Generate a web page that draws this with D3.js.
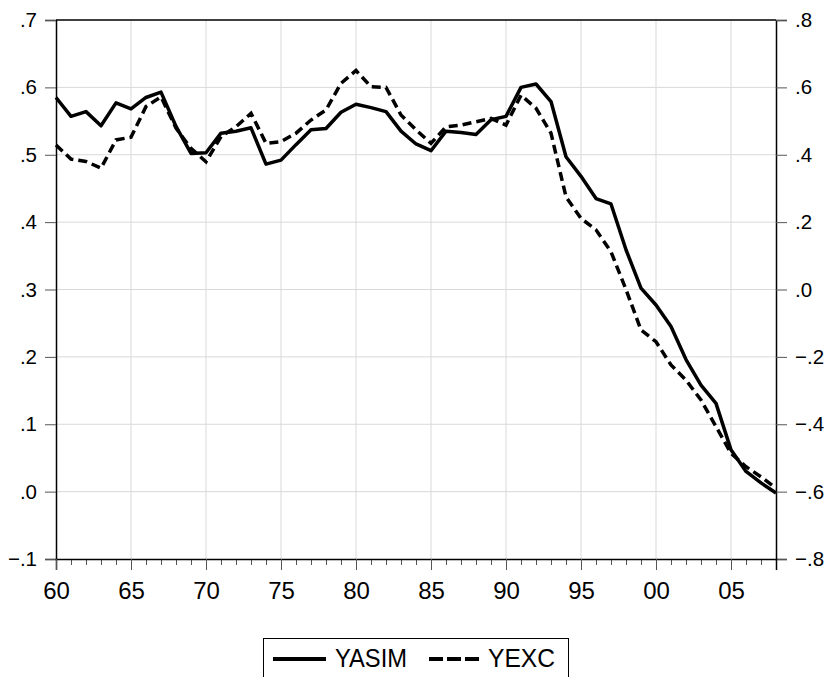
<!DOCTYPE html>
<html>
<head>
<meta charset="utf-8">
<script src="https://cdn.jsdelivr.net/npm/d3@7"></script>
<style>
  body { margin: 0; background: #fff; }
  svg text { font-family: "Liberation Sans", Arial, sans-serif; fill: #000; }
</style>
</head>
<body>
<svg id="chart" width="825" height="677"></svg>
<script>
// years 1960..2008
const years = d3.range(1960, 2009);

// YASIM (left axis)
const yasim = [0.585, 0.557, 0.564, 0.543, 0.577, 0.568, 0.585, 0.593, 0.542, 0.502,
  0.503, 0.532, 0.535, 0.540, 0.486, 0.492, 0.515, 0.537, 0.539, 0.563,
  0.575, 0.570, 0.564, 0.535, 0.516, 0.506, 0.535, 0.533, 0.530, 0.552,
  0.557, 0.600, 0.605, 0.579, 0.497, 0.468, 0.435, 0.427, 0.359, 0.302,
  0.277, 0.245, 0.196, 0.158, 0.131, 0.062, 0.030, 0.013, -0.002];

// YEXC (right axis)
const yexc = [0.429, 0.387, 0.380, 0.360, 0.444, 0.452, 0.543, 0.572, 0.479, 0.419,
  0.379, 0.454, 0.483, 0.523, 0.434, 0.439, 0.464, 0.503, 0.533, 0.612,
  0.650, 0.602, 0.600, 0.518, 0.474, 0.434, 0.483, 0.488, 0.498, 0.508,
  0.488, 0.577, 0.538, 0.464, 0.275, 0.211, 0.177, 0.112, 0.000, -0.120,
  -0.155, -0.224, -0.269, -0.328, -0.407, -0.486, -0.526, -0.556, -0.590];

const leftTicks = [-0.1, 0.0, 0.1, 0.2, 0.3, 0.4, 0.5, 0.6, 0.7];
const rightTicks = [-0.8, -0.6, -0.4, -0.2, 0.0, 0.2, 0.4, 0.6, 0.8];
const xMajor = [1960, 1965, 1970, 1975, 1980, 1985, 1990, 1995, 2000, 2005];
const seriesNames = ["YASIM", "YEXC"];

const svg = d3.select("#chart");
const L = 56, R = 776, T = 20, B = 559;

const x = d3.scaleLinear().domain([1960, 2008]).range([L, R]);
const yL = d3.scaleLinear().domain([-0.1, 0.7]).range([B, T]);
const yR = d3.scaleLinear().domain([-0.8, 0.8]).range([B, T]);

const fmt = v => d3.format(".1f")(v).replace("0.", ".");

// grid
svg.append("g").selectAll("line").data(leftTicks.slice(1, -1)).join("line")
  .attr("x1", L).attr("x2", R)
  .attr("y1", d => yL(d)).attr("y2", d => yL(d))
  .attr("stroke", "#d9d9d9").attr("stroke-width", 1);
svg.append("g").selectAll("line").data(xMajor.slice(1)).join("line")
  .attr("x1", d => x(d)).attr("x2", d => x(d))
  .attr("y1", T).attr("y2", B)
  .attr("stroke", "#d9d9d9").attr("stroke-width", 1);

// left axis
const gl = svg.append("g").attr("transform", `translate(${L},0)`)
  .call(d3.axisLeft(yL).tickValues(leftTicks).tickFormat(fmt).tickSize(11).tickPadding(8));
gl.select(".domain").attr("stroke", "#000").attr("stroke-width", 1.5);
gl.selectAll(".tick line").attr("stroke", "#555");
gl.selectAll("text").style("font-size", "20.5px");

// right axis
const gr = svg.append("g").attr("transform", `translate(${R},0)`)
  .call(d3.axisRight(yR).tickValues(rightTicks).tickFormat(fmt).tickSize(11).tickPadding(8));
gr.select(".domain").attr("stroke", "#000").attr("stroke-width", 1.5);
gr.selectAll(".tick line").attr("stroke", "#555");
gr.selectAll("text").style("font-size", "20.5px");

// bottom axis: minor yearly ticks, major every 5
const gbMinor = svg.append("g").attr("transform", `translate(0,${B})`)
  .call(d3.axisBottom(x).tickValues(years).tickFormat("").tickSize(6));
gbMinor.select(".domain").remove();
gbMinor.selectAll(".tick line").attr("stroke", "#555");
const gb = svg.append("g").attr("transform", `translate(0,${B})`)
  .call(d3.axisBottom(x).tickValues(xMajor).tickFormat(d => String(d % 100).padStart(2, "0")).tickSize(11).tickPadding(12));
gb.select(".domain").attr("stroke", "#000").attr("stroke-width", 1.5);
gb.selectAll(".tick line").attr("stroke", "#555");
gb.selectAll("text").style("font-size", "24px");

// top border
svg.append("line").attr("x1", L).attr("x2", R).attr("y1", T).attr("y2", T)
  .attr("stroke", "#000").attr("stroke-width", 1.5);

// lines
const lineL = d3.line().x((d, i) => x(years[i])).y(d => yL(d));
const lineR = d3.line().x((d, i) => x(years[i])).y(d => yR(d));

svg.append("path").datum(yexc).attr("d", lineR)
  .attr("fill", "none").attr("stroke", "#000").attr("stroke-width", 3.5)
  .attr("stroke-dasharray", "9,5");
svg.append("path").datum(yasim).attr("d", lineL)
  .attr("fill", "none").attr("stroke", "#000").attr("stroke-width", 3.5)
  .attr("stroke-linejoin", "round");

// legend
const lg = svg.append("g");
lg.append("rect").attr("x", 263.5).attr("y", 638.5).attr("width", 305).attr("height", 60)
  .attr("fill", "none").attr("stroke", "#000").attr("stroke-width", 1);
lg.append("line").attr("x1", 273).attr("x2", 326).attr("y1", 659).attr("y2", 659)
  .attr("stroke", "#000").attr("stroke-width", 4);
lg.append("text").attr("x", 335).attr("y", 667).style("font-size", "25px")
  .attr("textLength", 72).attr("lengthAdjust", "spacingAndGlyphs").text(seriesNames[0]);
lg.append("line").attr("x1", 429).attr("x2", 479).attr("y1", 659).attr("y2", 659)
  .attr("stroke", "#000").attr("stroke-width", 4).attr("stroke-dasharray", "14,4");
lg.append("text").attr("x", 488).attr("y", 667).style("font-size", "25px")
  .attr("textLength", 67).attr("lengthAdjust", "spacingAndGlyphs").text(seriesNames[1]);
</script>
</body>
</html>
